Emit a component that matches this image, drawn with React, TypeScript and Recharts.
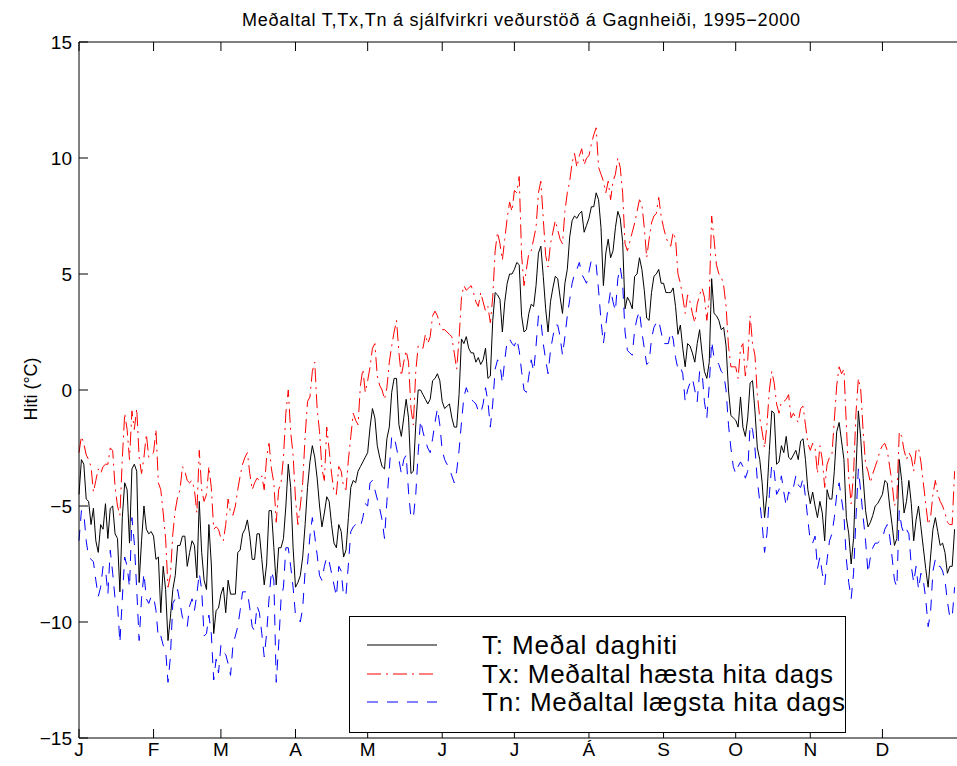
import { LineChart, Line, XAxis, YAxis } from 'recharts'

// day-of-year where each month starts, and their labels
const monthStarts = [1, 32, 60, 91, 121, 152, 182, 213, 244, 274, 305, 335]
const monthLabels = ['J', 'F', 'M', 'A', 'M', 'J', 'J', 'Á', 'S', 'O', 'N', 'D']
const yTicks = [-15, -10, -5, 0, 5, 10, 15]

// T: mean daily temperature (365 days)
const T = [
  -4.5, -3.0, -3.2, -4.7, -4.8, -5.8, -5.1, -6.5, -7.0, -5.8,
  -6.0, -4.9, -6.4, -5.1, -5.0, -6.2, -6.4, -8.7, -5.5, -4.0,
  -4.3, -6.6, -3.4, -3.2, -3.5, -8.3, -6.5, -5.0, -6.0, -6.2,
  -6.1, -6.3, -7.3, -7.2, -9.6, -7.6, -8.6, -10.8, -9.8, -8.6,
  -8.0, -6.7, -6.7, -6.3, -6.3, -7.6, -7.0, -6.5, -6.7, -8.1,
  -4.8, -7.0, -8.2, -8.6, -5.8, -7.5, -10.5, -9.5, -9.4, -8.8,
  -8.5, -9.6, -8.2, -8.8, -8.8, -8.8, -7.0, -6.9, -6.2, -6.0,
  -5.6, -6.3, -7.3, -7.3, -6.2, -6.2, -7.3, -8.4, -7.5, -5.2,
  -5.2, -6.8, -8.4, -6.8, -6.8, -6.4, -5.0, -3.2, -4.2, -6.8,
  -8.5, -8.3, -8.0, -7.2, -5.8, -4.2, -3.1, -2.4, -2.9, -3.8,
  -5.0, -5.9, -5.3, -4.6, -4.8, -5.8, -6.6, -6.8, -5.8, -6.1,
  -7.2, -6.9, -5.5, -4.2, -3.9, -4.0, -3.5, -3.3, -3.1, -2.9,
  -2.7, -1.6, -0.8, -1.2, -2.4, -2.9, -3.3, -3.4, -2.1, -1.6,
  -0.1, 0.5, 0.5, -1.5, -2.0, -1.2, -0.4, -1.2, -3.6, -3.5,
  -1.5, 0.0, 0.0, -0.2, -0.4, -0.6, -0.4, 0.4, 0.5, 0.7,
  0.4, -0.5, -0.8, -0.7, -0.6, -1.2, -1.6, -1.6, -0.2, 2.2,
  2.0, 2.3, 1.8, 1.6, 1.6, 1.2, 1.4, 1.1, 1.3, 1.8,
  0.5, 0.6, 3.0, 4.2, 4.1, 3.9, 2.5, 3.8, 4.6, 5.0,
  5.0, 5.2, 5.5, 5.4, 3.2, 2.5, 2.6, 3.3, 3.7, 3.6,
  4.5, 5.9, 6.2, 4.9, 3.5, 2.5, 3.8, 4.4, 4.9, 4.8,
  4.0, 3.3, 4.6, 5.2, 6.6, 7.3, 7.5, 7.4, 7.6, 7.7,
  6.8, 7.1, 7.4, 7.9, 7.9, 8.5, 8.2, 7.0, 4.5, 5.9,
  6.5, 5.7, 6.0, 7.0, 7.7, 7.4, 6.4, 3.5, 4.0, 3.8,
  3.5, 4.9, 5.0, 5.7, 5.2, 4.3, 3.1, 3.0, 4.2, 4.9,
  5.0, 5.2, 4.6, 4.6, 4.2, 4.2, 4.2, 4.4, 3.6, 2.4,
  2.8, 1.8, 1.0, 2.0, 1.9, 1.6, 1.2, 2.0, 2.6, 1.6,
  0.8, 0.5, 1.2, 4.8, 3.3, 3.2, 3.0, 2.6, 2.7, 1.9,
  0.0, -1.1, -1.2, -1.3, -1.6, -0.3, -1.6, -2.0, -1.2, 0.3,
  0.4, -0.9, -2.5, -3.0, -4.0, -5.5, -4.5, -2.6, -0.9, -1.0,
  -3.2, -3.1, -2.4, -2.7, -2.0, -2.9, -3.0, -2.8, -2.6, -3.0,
  -2.2, -2.1, -3.0, -4.3, -4.9, -4.4, -5.0, -5.5, -4.8, -5.3,
  -6.5, -4.3, -4.7, -4.7, -3.5, -1.8, -1.4, -2.2, -3.0, -5.5,
  -6.2, -7.5, -6.4, -3.5, -0.9, -2.1, -3.8, -5.2, -5.9, -5.7,
  -5.4, -5.0, -4.9, -4.7, -4.5, -3.9, -4.0, -5.0, -5.8, -6.7,
  -6.4, -3.0, -3.9, -5.3, -4.8, -3.9, -4.9, -6.5, -5.6, -5.0,
  -5.9, -6.8, -7.7, -8.5, -7.2, -6.0, -5.5, -6.1, -6.7, -6.6,
  -7.0, -7.9, -7.6, -7.6, -6.0,
]

// Tx: mean daily maximum
const Tx = [
  -2.7, -2.0, -2.3, -2.8, -3.0, -3.3, -4.4, -3.9, -3.4, -3.6,
  -3.3, -3.2, -3.2, -2.5, -2.6, -4.2, -5.0, -5.4, -3.0, -1.0,
  -1.7, -3.0, -0.9, -1.7, -0.8, -2.9, -3.6, -2.9, -1.9, -2.9,
  -2.8, -2.7, -1.7, -4.0, -4.3, -5.3, -6.4, -8.5, -8.0, -6.2,
  -5.2, -4.6, -4.3, -3.3, -3.5, -3.9, -4.0, -3.9, -4.3, -5.3,
  -2.6, -4.3, -4.8, -4.5, -3.3, -4.2, -6.0, -5.9, -6.0, -6.4,
  -6.5, -5.8, -4.7, -5.3, -5.4, -5.0, -4.3, -3.7, -3.2, -2.9,
  -2.7, -3.6, -4.3, -4.0, -3.8, -3.9, -3.7, -4.3, -2.9, -2.3,
  -3.4, -4.0, -5.7, -4.3, -4.0, -2.9, -1.0, 0.0, -1.8, -2.8,
  -4.7, -5.8, -5.0, -4.0, -2.0, -0.5, -0.3, 0.8, 1.2, -0.8,
  -1.8, -3.4, -3.9, -1.6, -2.6, -3.6, -4.4, -4.5, -3.3, -3.5,
  -4.2, -4.3, -3.0, -2.0, -1.0, -1.3, -1.5, 0.2, 0.9, -0.1,
  0.4, 1.0, 1.8, 2.0, 0.6, 0.2, 0.0, -0.4, 0.1, 1.2,
  1.9, 2.5, 3.0, 1.6, 0.6, 1.2, 1.7, 1.2, -0.8, -1.5,
  0.8, 1.9, 1.8, 1.8, 2.4, 2.0, 2.3, 3.2, 3.4, 3.2,
  2.8, 2.6, 2.6, 2.5, 2.4, 2.3, 1.6, 0.9, 2.2, 4.0,
  4.5, 4.3, 4.4, 4.5, 4.2, 3.8, 3.6, 4.2, 3.8, 3.4,
  3.6, 2.9, 4.0, 6.0, 6.8, 6.3, 5.6, 6.5, 7.4, 8.1,
  7.7, 8.6, 8.5, 9.2, 5.8, 4.5, 5.2, 5.9, 6.0, 6.5,
  7.0, 8.5, 9.0, 7.4, 5.8, 5.3, 6.3, 6.8, 7.3, 6.9,
  6.5, 6.3, 7.7, 8.5, 9.0, 9.8, 10.2, 9.6, 10.1, 10.4,
  9.7, 10.0, 10.1, 10.6, 11.0, 11.3, 9.6, 9.3, 9.0, 8.5,
  9.0, 8.2, 9.0, 9.3, 10.0, 9.6, 8.5, 6.3, 6.0, 6.4,
  6.8, 7.2, 7.7, 8.2, 8.0, 7.0, 5.7, 6.5, 7.2, 7.5,
  7.6, 8.3, 7.5, 7.0, 6.6, 6.3, 6.2, 6.8, 6.5, 5.0,
  4.6, 4.0, 3.3, 4.1, 3.8, 3.3, 2.9, 3.7, 4.1, 4.4,
  4.0, 3.0, 4.0, 7.5, 6.5, 5.4, 5.0, 4.9, 4.5, 3.6,
  1.9, 1.0, 1.0, 1.0, 0.5, 1.8, 2.0, 0.6, 1.3, 3.2,
  2.0, 1.5, -0.2, -1.2, -1.8, -2.5, -1.5, 0.0, 0.8, 0.3,
  -0.6, -1.0, -0.5, -0.5, -0.4, -0.2, -1.2, -1.0, -1.2, -1.4,
  -0.8, -0.7, -1.5, -2.3, -2.6, -2.3, -2.5, -3.6, -2.4, -3.0,
  -4.2, -3.2, -2.9, -2.8, -1.3, 0.2, 1.0, 0.7, 0.9, -1.5,
  -3.8, -4.9, -3.6, -1.0, 0.5, 0.0, -1.8, -3.2, -3.5, -4.0,
  -3.6, -3.3, -3.0, -2.6, -2.4, -2.3, -2.6, -3.3, -4.0, -5.0,
  -4.7, -1.8, -2.0, -2.6, -3.0, -2.7, -2.9, -3.5, -2.6, -2.5,
  -3.1, -4.0, -4.9, -5.8, -5.5, -4.5, -3.9, -4.5, -4.8, -5.0,
  -5.3, -5.7, -5.8, -5.8, -3.5,
]

// Tn: mean daily minimum
const Tn = [
  -6.5, -5.2, -5.3, -6.5, -7.2, -7.3, -7.4, -8.2, -8.9, -8.5,
  -7.6, -7.7, -8.8, -6.9, -7.9, -9.0, -9.2, -10.9, -9.0, -7.2,
  -7.6, -8.5, -5.5, -6.6, -8.6, -10.8, -9.0, -7.9, -9.0, -9.2,
  -8.9, -8.9, -9.5, -10.7, -10.6, -11.0, -11.2, -12.6, -11.5, -9.2,
  -9.0, -8.6, -9.2, -9.8, -10.0, -10.2, -9.3, -9.0, -9.5, -8.8,
  -7.9, -8.6, -10.6, -10.5, -9.7, -10.5, -12.5, -11.6, -12.2, -11.0,
  -11.3, -11.4, -11.8, -12.3, -11.0, -10.6, -10.2, -9.5, -8.7, -8.7,
  -8.7, -9.4, -10.2, -10.4, -9.3, -9.6, -10.5, -11.5, -10.5, -9.0,
  -7.8, -8.2, -12.6, -11.0, -9.0, -8.5, -6.8, -6.8, -7.6, -8.5,
  -9.7, -9.8, -10.0, -9.4, -7.8, -7.5, -6.3, -5.5, -6.3, -7.1,
  -8.0, -8.2, -7.6, -7.2, -7.4, -7.9, -8.4, -8.9, -7.6, -7.8,
  -8.9, -8.8, -7.5, -6.1, -5.9, -5.8, -5.9, -5.9, -5.5, -4.9,
  -5.0, -4.0, -3.9, -4.3, -4.7, -5.1, -5.6, -6.4, -4.8, -3.4,
  -2.0, -2.0, -2.5, -3.0, -3.6, -3.0, -2.8, -4.4, -5.5, -5.5,
  -4.5, -2.7, -1.3, -1.8, -2.2, -2.5, -2.7, -2.1, -1.4, -0.8,
  -1.5, -2.6, -3.0, -3.2, -3.4, -3.7, -4.0, -3.5, -2.6, -1.4,
  -0.3, 0.1, -0.2, -0.4, -0.5, -0.6, -0.9, -1.0, -0.6, 0.1,
  -0.5, -1.6, -0.6, 0.9, 1.3, 1.1, 0.3, 1.3, 2.1, 2.2,
  2.0, 1.9, 2.2, 1.7, 0.8, 0.0, -0.1, 0.6, 1.3, 0.8,
  1.9, 3.2, 3.0, 2.0, 1.3, 0.7, 1.7, 2.3, 2.8, 2.8,
  2.3, 1.5, 2.3, 3.2, 3.9, 4.6, 5.0, 5.2, 5.5, 5.0,
  4.8, 4.6, 5.1, 5.6, 5.6, 5.4, 4.3, 3.0, 2.0, 2.8,
  3.6, 4.3, 3.8, 3.4, 4.8, 5.3, 4.6, 2.5, 1.7, 1.6,
  1.5, 2.6, 3.1, 3.4, 2.5, 1.8, 1.1, 1.2, 2.2, 2.7,
  2.9, 3.0, 2.5, 2.0, 2.0, 2.0, 2.5, 2.2, 1.4, 0.9,
  1.0, 0.7, -0.5, 0.0, 0.3, 0.5, 0.0, -0.5, 0.8, 0.8,
  -0.5, -1.2, 0.2, 2.1, 1.4, 1.3, 1.1, 0.8, 0.7, 0.0,
  -1.5, -2.5, -3.3, -3.6, -3.3, -3.1, -3.3, -3.8, -3.5, -1.5,
  -1.7, -2.5, -3.9, -4.8, -5.8, -7.0, -6.2, -4.5, -3.2, -3.5,
  -4.5, -4.3, -3.7, -4.4, -5.0, -4.4, -4.5, -4.2, -3.7, -4.1,
  -4.2, -3.8, -4.6, -5.6, -6.5, -6.6, -6.3, -7.7, -7.2, -7.9,
  -8.4, -7.3, -6.5, -6.2, -5.5, -4.5, -4.0, -4.7, -5.4, -7.3,
  -8.3, -9.0, -7.9, -5.5, -3.4, -4.4, -5.5, -6.5, -7.9, -7.2,
  -6.8, -6.6, -6.6, -6.5, -6.4, -6.0, -5.8, -6.3, -7.2, -8.2,
  -8.5, -5.2, -5.9, -6.2, -6.0, -6.2, -7.6, -8.3, -7.6, -8.6,
  -7.9, -8.2, -9.0, -10.2, -9.6, -7.8, -7.3, -7.6, -7.6, -7.8,
  -8.2, -9.1, -9.8, -9.8, -8.5,
]

const data = T.map((t, i) => ({ day: i + 1, T: t, Tx: Tx[i], Tn: Tn[i] }))

const FONT = '"Liberation Sans", Arial, Helvetica, sans-serif'
const W = 957
const H = 766
const LEFT = 79
const TOP = 42
const BOTTOM = 738
const TICK = 9

const fmt = (v: number) => (v < 0 ? '\u2212' + Math.abs(v) : String(v))

function BottomTick(props: any) {
  const { x, y, payload } = props
  const i = monthStarts.indexOf(payload.value)
  return (
    <g>
      <line x1={x} x2={x} y1={BOTTOM} y2={BOTTOM - TICK} stroke="#000" />
      <text x={x} y={y} dy="0.71em" textAnchor="middle" fontSize={19} fontFamily={FONT} fill="#000">
        {monthLabels[i]}
      </text>
    </g>
  )
}

function TopTick(props: any) {
  const { x } = props
  return <line x1={x} x2={x} y1={TOP} y2={TOP + TICK} stroke="#000" />
}

function LeftTick(props: any) {
  const { x, y, payload } = props
  return (
    <g>
      <line x1={LEFT} x2={LEFT + TICK} y1={y} y2={y} stroke="#000" />
      <text x={x} y={y} dy="0.355em" textAnchor="end" fontSize={19} fontFamily={FONT} fill="#000">
        {fmt(payload.value)}
      </text>
    </g>
  )
}

function RightTick(props: any) {
  const { y } = props
  return <line x1={W} x2={W - TICK} y1={y} y2={y} stroke="#000" />
}

function Overlay() {
  const rows = [
    { label: 'T: Meðal daghiti', color: '#000', dash: undefined, y: 645, len: 195 },
    { label: 'Tx: Meðaltal hæsta hita dags', color: '#ff0000', dash: '14 5 2 5', y: 674, len: 351 },
    { label: 'Tn: Meðaltal lægsta hita dags', color: '#0000ff', dash: '11 9', y: 702, len: 363 },
  ]
  return (
    <svg
      width={W}
      height={H}
      style={{ position: 'absolute', left: 0, top: 0, pointerEvents: 'none' }}
    >
      <text
        x={242}
        y={26}
        fontSize={18}
        fontFamily={FONT}
        fill="#000"
        textLength={558}
        lengthAdjust="spacing"
      >
        Meðaltal T,Tx,Tn á sjálfvirkri veðurstöð á Gagnheiði, 1995−2000
      </text>
      <text
        transform="translate(37,389) rotate(-90)"
        textAnchor="middle"
        fontSize={18}
        fontFamily={FONT}
        fill="#000"
      >
        Hiti (°C)
      </text>
      <rect x={349.5} y={616.5} width={496} height={116} fill="#fff" stroke="#000" />
      {rows.map((r) => (
        <g key={r.label}>
          <line x1={367} x2={437} y1={r.y} y2={r.y} stroke={r.color} strokeDasharray={r.dash} />
          <text
            x={482}
            y={r.y + 9}
            fontSize={26}
            fontFamily={FONT}
            fill="#000"
            textLength={r.len}
            lengthAdjust="spacing"
          >
            {r.label}
          </text>
        </g>
      ))}
    </svg>
  )
}

export default function App() {
  return (
    <div style={{ position: 'absolute', left: 0, top: 0, width: W, height: H, background: '#fff' }}>
      <LineChart width={W} height={H} data={data} margin={{ top: TOP - 1, right: 0, bottom: 0, left: 0 }}>
        <XAxis
          dataKey="day"
          type="number"
          domain={[1, 366]}
          ticks={monthStarts}
          interval={0}
          height={H - BOTTOM}
          tickSize={0}
          tickMargin={5}
          tickLine={false}
          axisLine={{ stroke: '#000' }}
          tick={<BottomTick />}
        />
        <XAxis
          xAxisId="top"
          orientation="top"
          dataKey="day"
          type="number"
          domain={[1, 366]}
          ticks={monthStarts}
          interval={0}
          height={1}
          tickSize={0}
          tickMargin={0}
          tickLine={false}
          axisLine={{ stroke: '#000' }}
          tick={<TopTick />}
        />
        <YAxis
          type="number"
          domain={[-15, 15]}
          ticks={yTicks}
          interval={0}
          width={LEFT}
          tickSize={0}
          tickMargin={7}
          tickLine={false}
          axisLine={{ stroke: '#000' }}
          tick={<LeftTick />}
        />
        <YAxis
          yAxisId="right"
          orientation="right"
          type="number"
          domain={[-15, 15]}
          ticks={yTicks}
          interval={0}
          width={0}
          tickSize={0}
          tickMargin={0}
          tickLine={false}
          axisLine={false}
          tick={<RightTick />}
        />
        <Line type="linear" dataKey="T" stroke="#000" strokeWidth={1} dot={false} isAnimationActive={false} />
        <Line
          type="linear"
          dataKey="Tx"
          stroke="#ff0000"
          strokeWidth={1}
          strokeDasharray="14 5 2 5"
          dot={false}
          isAnimationActive={false}
        />
        <Line
          type="linear"
          dataKey="Tn"
          stroke="#0000ff"
          strokeWidth={1}
          strokeDasharray="11 9"
          dot={false}
          isAnimationActive={false}
        />
      </LineChart>
      <Overlay />
    </div>
  )
}
